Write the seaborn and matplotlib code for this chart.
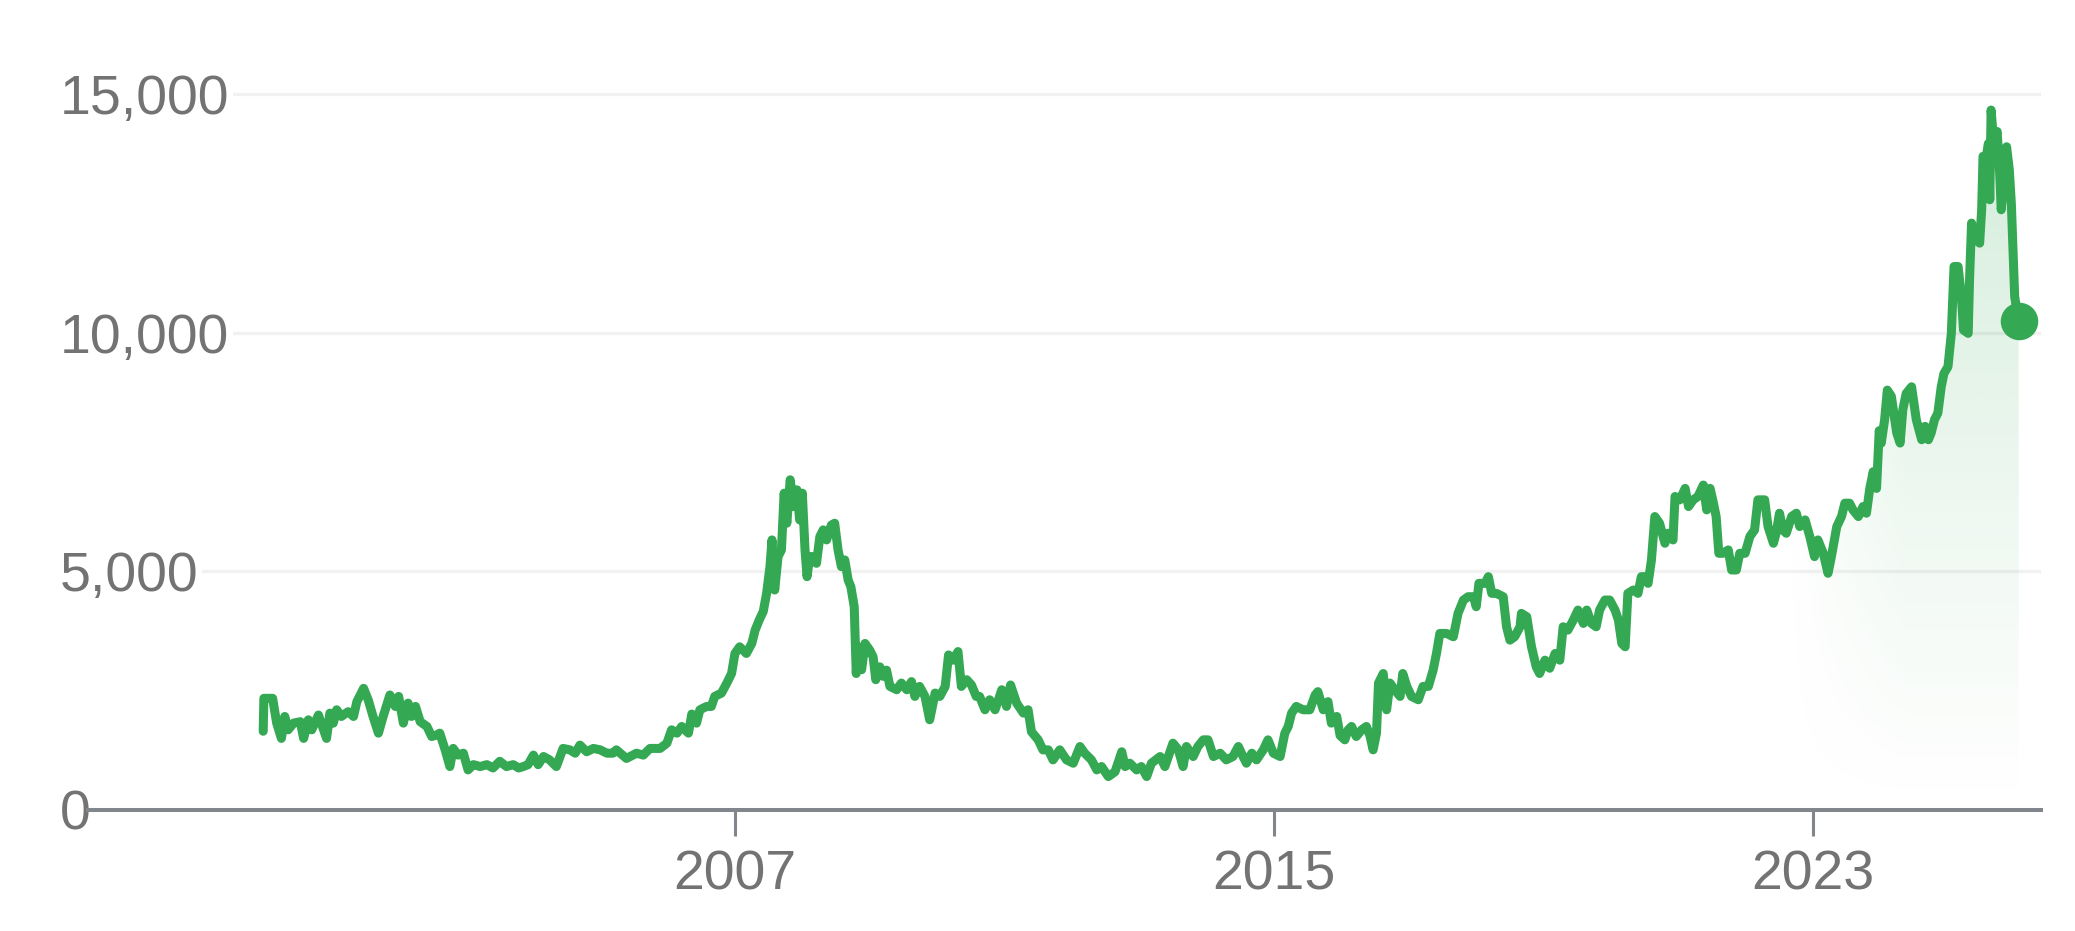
import matplotlib
matplotlib.use("Agg")
import matplotlib.pyplot as plt
import matplotlib.colors as mcolors
import numpy as np
import pandas as pd
import seaborn as sns

# price history (decimal year, price)
years = [
    2000.00, 2000.01, 2000.14, 2000.20, 2000.27, 2000.32, 2000.37, 2000.45, 2000.55, 2000.60,
    2000.67, 2000.72, 2000.82, 2000.94, 2000.99, 2001.04, 2001.09, 2001.16, 2001.26, 2001.34,
    2001.39, 2001.49, 2001.56, 2001.63, 2001.71, 2001.78, 2001.88, 2001.96, 2002.01, 2002.08,
    2002.15, 2002.20, 2002.26, 2002.33, 2002.43, 2002.50, 2002.57, 2002.62, 2002.70, 2002.77,
    2002.82, 2002.89, 2002.97, 2003.04, 2003.12, 2003.22, 2003.32, 2003.41, 2003.51, 2003.61,
    2003.71, 2003.79, 2003.86, 2003.93, 2004.01, 2004.08, 2004.16, 2004.25, 2004.35, 2004.45,
    2004.55, 2004.63, 2004.70, 2004.80, 2004.90, 2005.00, 2005.10, 2005.19, 2005.24, 2005.39,
    2005.54, 2005.64, 2005.74, 2005.89, 2005.99, 2006.06, 2006.14, 2006.21, 2006.31, 2006.36,
    2006.43, 2006.48, 2006.58, 2006.65, 2006.70, 2006.80, 2006.88, 2006.95, 2007.00, 2007.07,
    2007.17, 2007.25, 2007.30, 2007.36, 2007.42, 2007.47, 2007.52, 2007.55, 2007.59, 2007.64,
    2007.69, 2007.73, 2007.77, 2007.82, 2007.87, 2007.92, 2007.96, 2008.00, 2008.04, 2008.07,
    2008.11, 2008.16, 2008.21, 2008.26, 2008.31, 2008.36, 2008.43, 2008.48, 2008.53, 2008.58,
    2008.63, 2008.68, 2008.72, 2008.77, 2008.80, 2008.83, 2008.88, 2008.93, 2009.00, 2009.05,
    2009.09, 2009.15, 2009.20, 2009.25, 2009.30, 2009.40, 2009.47, 2009.55, 2009.62, 2009.67,
    2009.74, 2009.82, 2009.89, 2009.97, 2010.04, 2010.12, 2010.17, 2010.24, 2010.31, 2010.36,
    2010.44, 2010.51, 2010.58, 2010.63, 2010.71, 2010.78, 2010.86, 2010.96, 2011.03, 2011.09,
    2011.18, 2011.28, 2011.35, 2011.40, 2011.50, 2011.57, 2011.65, 2011.72, 2011.82, 2011.92,
    2012.02, 2012.12, 2012.19, 2012.29, 2012.37, 2012.44, 2012.54, 2012.64, 2012.74, 2012.79,
    2012.86, 2012.96, 2013.03, 2013.11, 2013.18, 2013.31, 2013.38, 2013.50, 2013.58, 2013.65,
    2013.70, 2013.80, 2013.87, 2013.95, 2014.02, 2014.10, 2014.20, 2014.29, 2014.39, 2014.47,
    2014.54, 2014.59, 2014.67, 2014.74, 2014.84, 2014.91, 2014.99, 2015.09, 2015.16, 2015.21,
    2015.26, 2015.33, 2015.43, 2015.53, 2015.61, 2015.65, 2015.73, 2015.80, 2015.85, 2015.93,
    2015.98, 2016.05, 2016.10, 2016.15, 2016.22, 2016.30, 2016.37, 2016.42, 2016.47, 2016.52,
    2016.55, 2016.62, 2016.67, 2016.72, 2016.79, 2016.87, 2016.91, 2016.97, 2017.04, 2017.14,
    2017.21, 2017.29, 2017.36, 2017.41, 2017.46, 2017.56, 2017.66, 2017.73, 2017.81, 2017.88,
    2017.96, 2018.00, 2018.04, 2018.13, 2018.18, 2018.23, 2018.30, 2018.40, 2018.45, 2018.50,
    2018.57, 2018.65, 2018.67, 2018.75, 2018.82, 2018.89, 2018.94, 2019.02, 2019.09, 2019.17,
    2019.24, 2019.29, 2019.36, 2019.44, 2019.51, 2019.59, 2019.64, 2019.71, 2019.78, 2019.83,
    2019.91, 2019.98, 2020.06, 2020.11, 2020.16, 2020.21, 2020.25, 2020.33, 2020.40, 2020.45,
    2020.50, 2020.55, 2020.60, 2020.65, 2020.72, 2020.80, 2020.85, 2020.92, 2020.95, 2021.02,
    2021.10, 2021.15, 2021.22, 2021.29, 2021.37, 2021.42, 2021.47, 2021.52, 2021.56, 2021.60,
    2021.66, 2021.74, 2021.79, 2021.86, 2021.91, 2021.99, 2022.06, 2022.13, 2022.18, 2022.28,
    2022.33, 2022.41, 2022.45, 2022.50, 2022.55, 2022.60, 2022.68, 2022.75, 2022.80, 2022.88,
    2022.95, 2023.02, 2023.07, 2023.15, 2023.22, 2023.27, 2023.35, 2023.42, 2023.47, 2023.54,
    2023.59, 2023.67, 2023.74, 2023.79, 2023.84, 2023.89, 2023.94, 2023.98, 2024.01, 2024.06,
    2024.10, 2024.16, 2024.24, 2024.29, 2024.33, 2024.38, 2024.46, 2024.53, 2024.61, 2024.66,
    2024.71, 2024.75, 2024.80, 2024.85, 2024.90, 2024.94, 2025.00, 2025.05, 2025.09, 2025.15,
    2025.20, 2025.23, 2025.30, 2025.32, 2025.35, 2025.42, 2025.47, 2025.50, 2025.52, 2025.57,
    2025.60, 2025.62, 2025.64, 2025.68, 2025.73, 2025.77, 2025.79, 2025.83, 2025.87, 2025.91,
    2025.94, 2025.99, 2026.05,
]
prices = [
    1650, 2340, 2340, 1820, 1500, 1960, 1680, 1820, 1850, 1500,
    1890, 1680, 1990, 1500, 2030, 1820, 2100, 1960, 2060, 1960,
    2270, 2550, 2300, 1960, 1610, 1960, 2410, 2170, 2380, 1820,
    2240, 1960, 2170, 1850, 1750, 1540, 1570, 1610, 1260, 910,
    1290, 1150, 1190, 840, 950, 910, 950, 880, 1020, 910,
    950, 880, 910, 950, 1150, 950, 1120, 1050, 910, 1290,
    1260, 1190, 1360, 1220, 1290, 1260, 1190, 1190, 1260, 1080,
    1190, 1150, 1290, 1290, 1400, 1680, 1610, 1750, 1610, 2010,
    1820, 2100, 2170, 2170, 2380, 2450, 2660, 2860, 3280, 3420,
    3280, 3490, 3770, 3980, 4160, 4540, 5100, 5660, 4610, 5310,
    5450, 6640, 6010, 6920, 6360, 6710, 6080, 6640, 5450, 4890,
    5310, 5310, 5170, 5730, 5870, 5660, 5970, 6010, 5450, 5100,
    5240, 4820, 4680, 4260, 2860, 3420, 2940, 3490, 3350, 3210,
    2730, 3000, 2800, 2930, 2590, 2520, 2660, 2520, 2690, 2380,
    2590, 2380, 1890, 2450, 2380, 2590, 3250, 3140, 3320, 2590,
    2730, 2620, 2380, 2380, 2100, 2310, 2100, 2520, 2170, 2620,
    2240, 2030, 2100, 1640, 1470, 1260, 1260, 1050, 1260, 1050,
    980, 1330, 1190, 1050, 840, 910, 700, 800, 1220, 910,
    980, 840, 910, 700, 980, 1120, 910, 1400, 1260, 910,
    1330, 1120, 1330, 1470, 1470, 1120, 1190, 1050, 1120, 1330,
    1120, 980, 1190, 1050, 1260, 1470, 1190, 1120, 1610, 1750,
    2030, 2170, 2100, 2100, 2410, 2480, 2100, 2270, 1820, 1960,
    1560, 1470, 1680, 1750, 1540, 1680, 1750, 1570, 1260, 1610,
    2660, 2860, 2100, 2660, 2520, 2380, 2860, 2590, 2380, 2310,
    2590, 2590, 2930, 3280, 3700, 3700, 3630, 4120, 4400, 4470,
    4470, 4260, 4750, 4750, 4890, 4540, 4540, 4470, 3840, 3560,
    3630, 3840, 4120, 4050, 3420, 3000, 2860, 3140, 2970, 3280,
    3140, 3840, 3770, 3980, 4190, 3910, 4190, 3910, 3840, 4190,
    4400, 4400, 4190, 3980, 3490, 3420, 4540, 4610, 4540, 4890,
    4890, 4750, 5240, 6150, 6010, 5590, 5800, 5660, 6570, 6500,
    6740, 6360, 6500, 6570, 6810, 6290, 6740, 6430, 6150, 5380,
    5380, 5450, 5030, 5030, 5380, 5380, 5730, 5870, 6500, 6500,
    5940, 5590, 5800, 6220, 5870, 5800, 6150, 6220, 5940, 6080,
    5730, 5310, 5660, 5380, 4960, 5310, 5940, 6150, 6430, 6430,
    6290, 6150, 6360, 6220, 6740, 7090, 6740, 7950, 7690, 8180,
    8800, 8670, 7900, 7690, 8390, 8730, 8870, 8180, 7760, 8040,
    7760, 7900, 8180, 8320, 8870, 9150, 9290, 9990, 11390, 11390,
    10760, 10060, 9990, 11110, 12300, 11950, 11880, 12580, 13700, 13700,
    13970, 12790, 14670, 13970, 14220, 13280, 12580, 13140, 13900, 13420,
    12720, 10760, 10240,
]

x_ticks = [2007, 2015, 2023]
x_tick_labels = ["2007", "2015", "2023"]
y_ticks = [0, 5000, 10000, 15000]
y_tick_labels = ["0", "5,000", "10,000", "15,000"]

df = pd.DataFrame({"year": years, "price": prices})

green = "#34a853"
grey = "#737373"
axis_grey = "#80868b"

sns.set_theme(style="white")
plt.rcParams["font.family"] = ["Liberation Sans", "DejaVu Sans"]

fig = plt.figure(figsize=(20.75, 9.31), dpi=100)
ax = fig.add_axes([0.0424, 0.13, 0.9412, 0.8056])

# soft green gradient under the recent part of the curve
area = ax.fill_between(df["year"], df["price"], 0, color="none", lw=0)
gx = np.linspace(df["year"].min(), df["year"].max(), 500)
gy = np.linspace(0, 15000, 300)
GX, GY = np.meshgrid(gx, gy)
fade = np.clip((GX - 2022.6) / 1.8, 0, 1) * np.clip(GY / 14000, 0, 1) ** 1.1
rgba = np.zeros(GX.shape + (4,))
rgba[..., :3] = mcolors.to_rgb(green)
rgba[..., 3] = 0.2 * fade
im = ax.imshow(rgba, extent=[gx[0], gx[-1], 0, 15000], origin="lower",
               aspect="auto", zorder=1, interpolation="bilinear")
im.set_clip_path(area.get_paths()[0], ax.transData)

sns.lineplot(data=df, x="year", y="price", color=green, linewidth=6.5,
             estimator=None, ax=ax, zorder=3)
ax.plot(df["year"].iloc[-1], df["price"].iloc[-1], "o", ms=26, color=green,
        zorder=4, clip_on=False)

ax.set_xlim(1997.40, 2026.38)
ax.set_ylim(0, 15720)
ax.set_xlabel("")
ax.set_ylabel("")

# y axis: labels sit inside the plot on the left, grid lines start after them
ax.set_yticks(y_ticks)
ax.set_yticklabels(y_tick_labels)
ax.yaxis.grid(True, color="#f1f1f1", lw=2.3)
ax.set_axisbelow(True)
ax.tick_params(axis="y", length=0, pad=20.2, labelsize=40, labelcolor=grey)
for lbl in ax.get_yticklabels():
    lbl.set_horizontalalignment("left")
    lbl.set_bbox(dict(facecolor="white", edgecolor="none", pad=3))

ax.set_xticks(x_ticks)
ax.set_xticklabels(x_tick_labels)
ax.tick_params(axis="x", bottom=True, direction="out", length=19, width=2.2,
               color=axis_grey, pad=9.4, labelsize=40, labelcolor=grey)

for side in ["left", "top", "right"]:
    ax.spines[side].set_visible(False)
ax.spines["bottom"].set_color(axis_grey)
ax.spines["bottom"].set_linewidth(2.9)
ax.spines["bottom"].set_zorder(5)

fig.savefig("out.png", dpi=100)
